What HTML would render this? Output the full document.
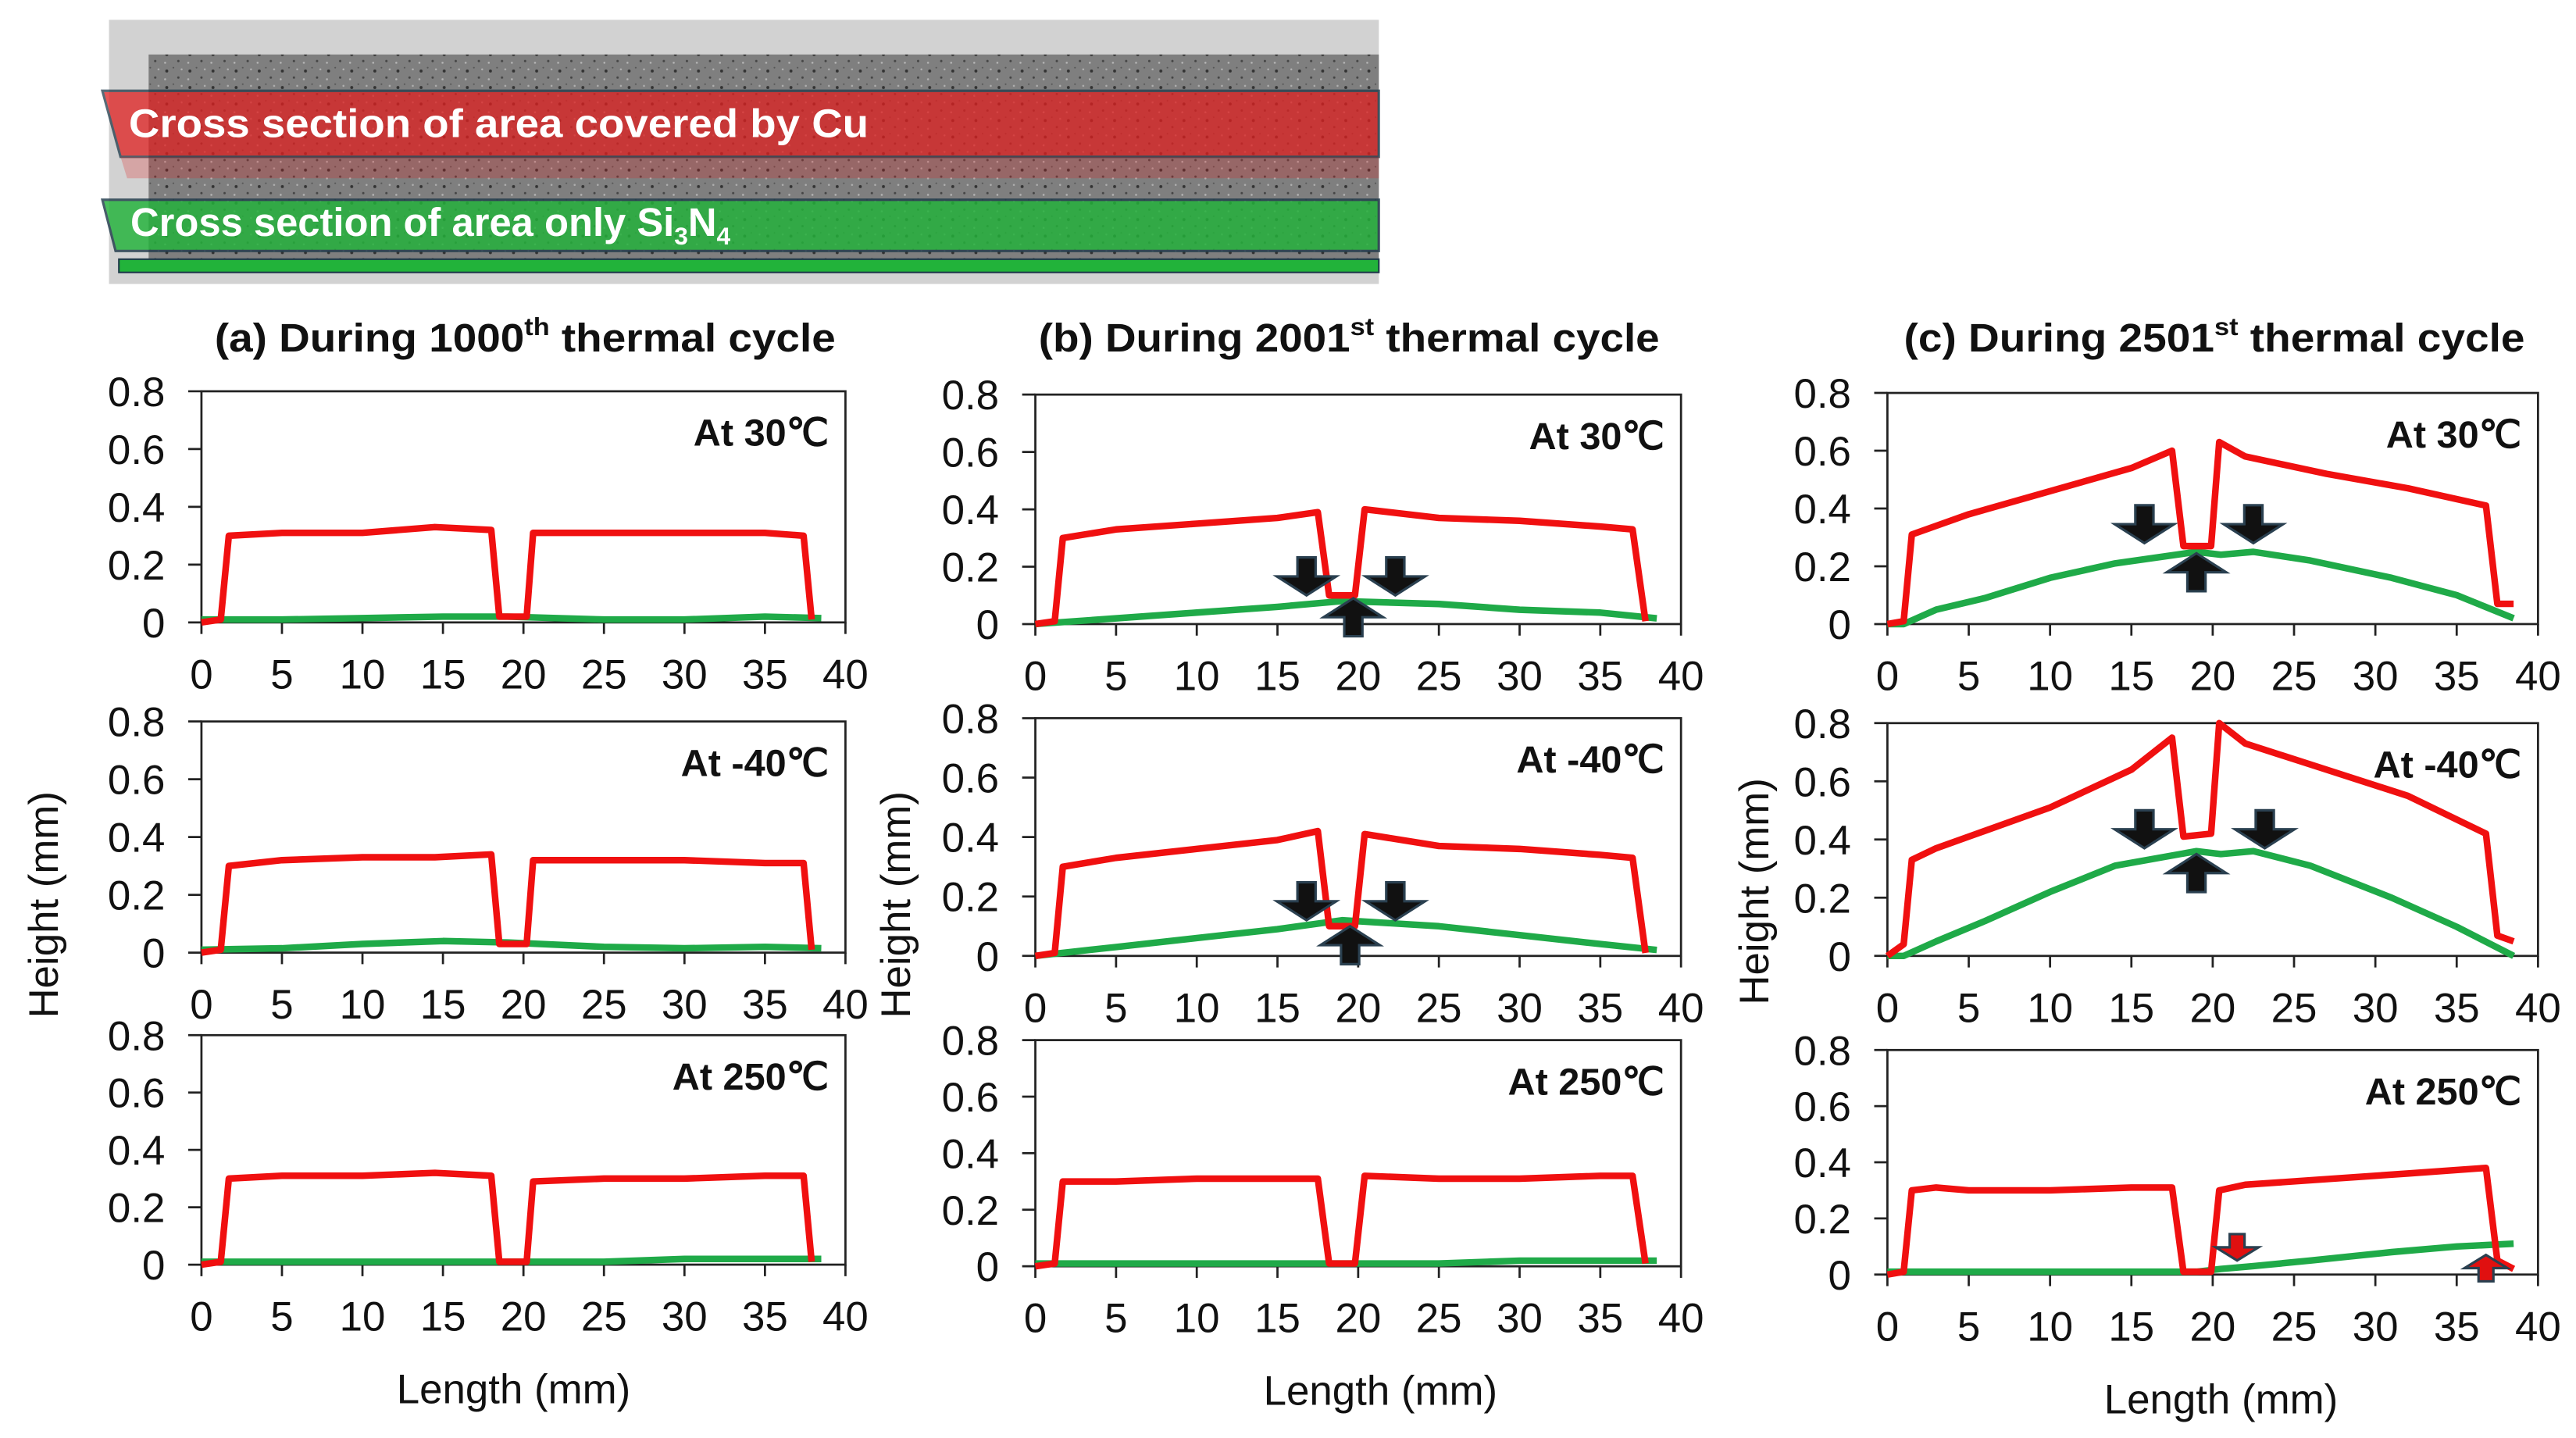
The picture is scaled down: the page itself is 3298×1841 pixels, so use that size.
<!DOCTYPE html>
<html><head><meta charset="utf-8"><style>
html,body{margin:0;padding:0;background:#fff;}
svg{display:block;}
text{font-family:"Liberation Sans",Arial,sans-serif;}
</style></head><body>
<svg id="fig" width="3298" height="1841" viewBox="0 0 1560 871" preserveAspectRatio="none" xmlns="http://www.w3.org/2000/svg">
<defs>
<pattern id="speck" width="14" height="10" patternUnits="userSpaceOnUse">
<rect width="14" height="10" fill="#7f7f7f"/>
<circle cx="3" cy="3" r="0.9" fill="#333"/><circle cx="10" cy="7" r="0.7" fill="#444"/><circle cx="7" cy="1" r="0.5" fill="#555"/><circle cx="12" cy="2" r="0.6" fill="#b0b0b0"/><circle cx="2" cy="8" r="0.6" fill="#b5b5b5"/>
</pattern>
</defs>
<g>
<rect x="66" y="12" width="769" height="160" fill="#d2d2d2"/>
<rect x="90" y="33" width="745" height="128" fill="url(#speck)"/>
<polygon points="62,55 835,55 835,95 73,95" fill="#e02020" opacity="0.75" stroke="#1f3a4a" stroke-width="1.5"/>
<polygon points="73,95 835,95 835,108 77,108" fill="#e02020" opacity="0.25"/>
<polygon points="62,121 835,121 835,152 70,152" fill="#22b33a" opacity="0.82" stroke="#1f3a4a" stroke-width="1.5"/>
<rect x="72" y="157" width="763" height="8" fill="#22b33a" stroke="#1f3a4a" stroke-width="1"/>
<text x="78" y="83" font-size="24" font-weight="bold" fill="#fff" textLength="448" lengthAdjust="spacingAndGlyphs">Cross section of area covered by Cu</text>
<text x="79" y="143" font-size="24" font-weight="bold" fill="#fff">Cross section of area only Si<tspan font-size="15" dy="5">3</tspan><tspan dy="-5">N</tspan><tspan font-size="15" dy="5">4</tspan></text>
</g>
<g id="charts"></g>
</svg>
<script>
// ---- data (x in mm, height in mm) ----
const xTicks = [0,5,10,15,20,25,30,35,40];
const yTicks = [0,0.2,0.4,0.6,0.8];
const yTickLabels = ["0","0.2","0.4","0.6","0.8"];

const aRedX = [0,1.2,1.7,5,10,14.5,18,18.5,20.2,20.6,25,30,35,37.4,37.9];
const a30Red = [0,0.01,0.30,0.31,0.31,0.33,0.32,0.02,0.02,0.31,0.31,0.31,0.31,0.30,0.01];
const a40Red = [0,0.01,0.30,0.32,0.33,0.33,0.34,0.03,0.03,0.32,0.32,0.32,0.31,0.31,0.01];
const a250Red = [0,0.01,0.30,0.31,0.31,0.32,0.31,0.01,0.01,0.29,0.30,0.30,0.31,0.31,0.01];
const gX = [0,5,10,15,19,25,30,35,38.5];
const a30Green = [0.01,0.01,0.015,0.02,0.02,0.01,0.01,0.02,0.015];
const a40Green = [0.01,0.015,0.03,0.04,0.035,0.02,0.015,0.02,0.015];
const a250Green = [0.01,0.01,0.01,0.01,0.01,0.01,0.02,0.02,0.02];

const bRedX = [0,1.2,1.7,5,10,15,17.5,18.2,19.8,20.4,25,30,35,37,37.8];
const b30Red = [0,0.01,0.30,0.33,0.35,0.37,0.39,0.10,0.10,0.40,0.37,0.36,0.34,0.33,0.01];
const b40Red = [0,0.01,0.30,0.33,0.36,0.39,0.42,0.10,0.10,0.41,0.37,0.36,0.34,0.33,0.01];
const b250Red = [0,0.01,0.30,0.30,0.31,0.31,0.31,0.01,0.01,0.32,0.31,0.31,0.32,0.32,0.01];
const b30Green = [0,0.02,0.04,0.06,0.08,0.07,0.05,0.04,0.02];
const b40Green = [0,0.03,0.06,0.09,0.12,0.10,0.07,0.04,0.02];
const b250Green = [0.01,0.01,0.01,0.01,0.01,0.01,0.02,0.02,0.02];

const cRedX = [0,1,1.5,3,5,10,15,17.5,18.2,19.9,20.4,22,27,32,36.8,37.5,38.5];
const c30Red = [0,0.01,0.31,0.34,0.38,0.46,0.54,0.60,0.27,0.27,0.63,0.58,0.52,0.47,0.41,0.07,0.07];
const c40Red = [0,0.04,0.33,0.37,0.41,0.51,0.64,0.75,0.41,0.42,0.80,0.73,0.64,0.55,0.42,0.07,0.05];
const c250Red = [0,0.01,0.30,0.31,0.30,0.30,0.31,0.31,0.01,0.01,0.30,0.32,0.34,0.36,0.38,0.05,0.02];
const cGX = [0,1,3,6,10,14,19,20.5,22.5,26,31,35,38.5];
const c30Green = [0,0,0.05,0.09,0.16,0.21,0.25,0.24,0.25,0.22,0.16,0.10,0.02];
const c40Green = [0,0,0.05,0.12,0.22,0.31,0.36,0.35,0.36,0.31,0.20,0.10,0.0];
const c250Green = [0.01,0.01,0.01,0.01,0.01,0.01,0.01,0.02,0.03,0.05,0.08,0.10,0.11];

// arrows: [x mm, tip height mm, direction, colour]
const b30Arrows = [[16.8,0.10,'d','#111'],[22.3,0.10,'d','#111'],[19.7,0.09,'u','#111']];
const b40Arrows = [[16.8,0.12,'d','#111'],[22.3,0.12,'d','#111'],[19.5,0.10,'u','#111']];
const c30Arrows = [[15.8,0.28,'d','#111'],[22.5,0.28,'d','#111'],[19,0.245,'u','#111']];
const c40Arrows = [[15.8,0.37,'d','#111'],[23.2,0.37,'d','#111'],[19,0.35,'u','#111']];
const c250Arrows = [[21.5,0.05,'d','#e01010'],[36.8,0.07,'u','#e01010']];

const panels = [
 {id:'a30',x0:122,x1:512,yTop:237,yBot:377,label:'At 30\u2103',rx:aRedX,r:a30Red,gx:gX,g:a30Green,arrows:[]},
 {id:'a-40',x0:122,x1:512,yTop:437,yBot:577,label:'At -40\u2103',rx:aRedX,r:a40Red,gx:gX,g:a40Green,arrows:[]},
 {id:'a250',x0:122,x1:512,yTop:627,yBot:766,label:'At 250\u2103',rx:aRedX,r:a250Red,gx:gX,g:a250Green,arrows:[]},
 {id:'b30',x0:627,x1:1018,yTop:239,yBot:378,label:'At 30\u2103',rx:bRedX,r:b30Red,gx:gX,g:b30Green,arrows:b30Arrows},
 {id:'b-40',x0:627,x1:1018,yTop:435,yBot:579,label:'At -40\u2103',rx:bRedX,r:b40Red,gx:gX,g:b40Green,arrows:b40Arrows},
 {id:'b250',x0:627,x1:1018,yTop:630,yBot:767,label:'At 250\u2103',rx:bRedX,r:b250Red,gx:gX,g:b250Green,arrows:[]},
 {id:'c30',x0:1143,x1:1537,yTop:238,yBot:378,label:'At 30\u2103',rx:cRedX,r:c30Red,gx:cGX,g:c30Green,arrows:c30Arrows},
 {id:'c-40',x0:1143,x1:1537,yTop:438,yBot:579,label:'At -40\u2103',rx:cRedX,r:c40Red,gx:cGX,g:c40Green,arrows:c40Arrows},
 {id:'c250',x0:1143,x1:1537,yTop:636,yBot:772,label:'At 250\u2103',rx:cRedX,r:c250Red,gx:cGX,g:c250Green,arrows:c250Arrows}
];
const titles = [
 {x:130,y:213,t:'(a) During 1000',s:'th'},
 {x:629,y:213,t:'(b) During 2001',s:'st'},
 {x:1153,y:213,t:'(c) During 2501',s:'st'}
];

const NS='http://www.w3.org/2000/svg';
const root=document.getElementById('charts');
function mk(tag,attrs,parent){const e=document.createElementNS(NS,tag);for(const k in attrs)e.setAttribute(k,attrs[k]);(parent||root).appendChild(e);return e;}

titles.forEach(function(t){
  const e=mk('text',{x:t.x,y:t.y,'font-size':24,'font-weight':'bold',fill:'#111',textLength:376,lengthAdjust:'spacingAndGlyphs'});
  
  
  e.appendChild(document.createTextNode(t.t));
  const s=mk('tspan',{'font-size':15,dy:-10},e);s.textContent=t.s;
  const r=mk('tspan',{dy:10},e);r.textContent=' thermal cycle';
});

panels.forEach(function(p){
  const g=mk('g',{});
  
  
  const sx=v=>p.x0+(v/40)*(p.x1-p.x0);
  const sy=v=>p.yBot-(v/0.8)*(p.yBot-p.yTop);
  const fr=mk('rect',{x:p.x0,y:p.yTop,width:p.x1-p.x0,height:p.yBot-p.yTop,fill:'none',stroke:'#222','stroke-width':1.3},g);
  
  
  yTicks.forEach(function(v,i){
    mk('line',{x1:p.x0-8,x2:p.x0,y1:sy(v),y2:sy(v),stroke:'#222','stroke-width':1.3},g);
    const t=mk('text',{x:p.x0-22,y:sy(v)+9,'font-size':25,'text-anchor':'end',fill:'#111'},g);
    
    
    t.textContent=yTickLabels[i];
  });
  xTicks.forEach(function(v){
    mk('line',{x1:sx(v),x2:sx(v),y1:p.yBot,y2:p.yBot+7,stroke:'#222','stroke-width':1.3},g);
    const t=mk('text',{x:sx(v),y:p.yBot+40,'font-size':25,'text-anchor':'middle',fill:'#111'},g);
    
    
    t.textContent=v;
  });
  const gl=mk('polyline',{points:p.gx.map((x,i)=>sx(x)+','+sy(p.g[i])).join(' '),fill:'none',stroke:'#1faa48','stroke-width':4,'stroke-linejoin':'round'},g);
  
  
  const rl=mk('polyline',{points:p.rx.map((x,i)=>sx(x)+','+sy(p.r[i])).join(' '),fill:'none',stroke:'#f01010','stroke-width':4,'stroke-linejoin':'round'},g);
  
  
  p.arrows.forEach(function(a){
    const cx=sx(a[0]), cy=sy(a[1]);
    const red=a[3]!=='#111';
    const w=red?13:18, h=red?16:23, bw=red?9:11;
    let pts;
    if(a[2]==='d') pts=[[cx-bw/2,cy-h],[cx+bw/2,cy-h],[cx+bw/2,cy-h/2],[cx+w,cy-h/2],[cx,cy],[cx-w,cy-h/2],[cx-bw/2,cy-h/2]];
    else pts=[[cx-bw/2,cy+h],[cx+bw/2,cy+h],[cx+bw/2,cy+h/2],[cx+w,cy+h/2],[cx,cy],[cx-w,cy+h/2],[cx-bw/2,cy+h/2]];
    const ar=mk('polygon',{points:pts.map(q=>q.join(',')).join(' '),fill:a[3],stroke:'#2a4050','stroke-width':1.5},g);
    
    
  });
  const lb=mk('text',{x:p.x1-10,y:p.yTop+33,'font-size':23,'font-weight':'bold','text-anchor':'end',fill:'#111'},g);
  
  
  lb.textContent=p.label;
});

[[35,548],[551,548],[1071,540]].forEach(function(c){
  const t=mk('text',{x:c[0],y:c[1],'font-size':25,'text-anchor':'middle',fill:'#111',transform:'rotate(-90 '+c[0]+' '+c[1]+')'});
  
  
  t.textContent='Height (mm)';
});
[[311,850],[836,851],[1345,856]].forEach(function(c){
  const t=mk('text',{x:c[0],y:c[1],'font-size':25,'text-anchor':'middle',fill:'#111'});
  
  
  t.textContent='Length (mm)';
});
</script>
</body></html>
